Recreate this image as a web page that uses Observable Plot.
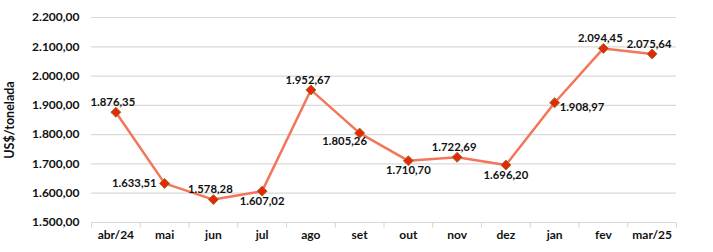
<!DOCTYPE html>
<html>
<head>
<meta charset="utf-8">
<script src="https://cdn.jsdelivr.net/npm/d3@7"></script>
<script src="https://cdn.jsdelivr.net/npm/@observablehq/plot@0.6"></script>
<style>
  html, body { margin: 0; padding: 0; background: #fff; }
</style>
</head>
<body>
<div id="chart"></div>
<script>
const months = ["abr/24","mai","jun","jul","ago","set","out","nov","dez","jan","fev","mar/25"];
const prices = [1876.35,1633.51,1578.28,1607.02,1952.67,1805.26,1710.70,1722.69,1696.20,1908.97,2094.45,2075.64];
const yTicks = [1500,1600,1700,1800,1900,2000,2100,2200];
const labelSide = ["top","left","top","bottom","top","bottomleft","bottom","top","bottom","right","top","top"];
const yTitle = "US$/tonelada";

const data = months.map((m, i) => ({i, month: m, price: prices[i], side: labelSide[i]}));
const edges = d3.range(months.length + 1).map(k => k - 0.5);
const fmt = d3.formatLocale({decimal: ",", thousands: ".", grouping: [3], currency: ["", ""]}).format(",.2f");

const tickSym = {draw(ctx) { ctx.moveTo(0, 0); ctx.lineTo(0, 5); }};

const sides = {
  top: {dx: -3, dy: -10, textAnchor: "middle"},
  bottom: {dy: 10, textAnchor: "middle"},
  left: {dx: -8, dy: 0, textAnchor: "end"},
  right: {dx: 5, dy: 5, textAnchor: "start"},
  bottomleft: {dx: -15, dy: 8, textAnchor: "middle"}
};

const labelMarks = Object.entries(sides).map(([s, opt]) =>
  Plot.text(data.filter(d => d.side === s), {
    x: "i", y: "price", text: d => fmt(d.price),
    fontSize: 11.3, fill: "#111", ...opt
  })
);

const chart = Plot.plot({
  width: 713,
  height: 252,
  marginLeft: 91,
  marginRight: 37,
  marginTop: 17,
  marginBottom: 30,
  style: {fontFamily: "Lato, 'Open Sans', sans-serif", fontWeight: 700, fontSize: "12px", color: "#111", background: "#fff"},
  x: {domain: [-0.5, months.length - 0.5], axis: null},
  y: {domain: [1500, 2200], ticks: yTicks, tickFormat: fmt, tickSize: 0, tickPadding: 12, label: null},
  marks: [
    Plot.ruleY(yTicks, {stroke: "#d9d9d9", strokeWidth: 1.2}),
    Plot.dot(edges, {x: d => d, y: () => 1500, symbol: tickSym, r: 1, stroke: "#d9d9d9", strokeWidth: 1.2, fill: "none"}),
    Plot.text(data, {x: "i", text: "month", frameAnchor: "bottom", dy: 16, fontSize: 12}),
    Plot.text([yTitle], {text: d => d, frameAnchor: "left", textAnchor: "middle", rotate: -90, dx: -82, fontSize: 12.5}),
    Plot.line(data, {x: "i", y: "price", stroke: "#f4765a", strokeWidth: 2.5}),
    Plot.dot(data, {x: "i", y: "price", symbol: "diamond2", r: 4.5, fill: "#e8250f", stroke: "#94781c", strokeWidth: 1}),
    ...labelMarks
  ]
});
document.getElementById("chart").appendChild(chart);
</script>
</body>
</html>
